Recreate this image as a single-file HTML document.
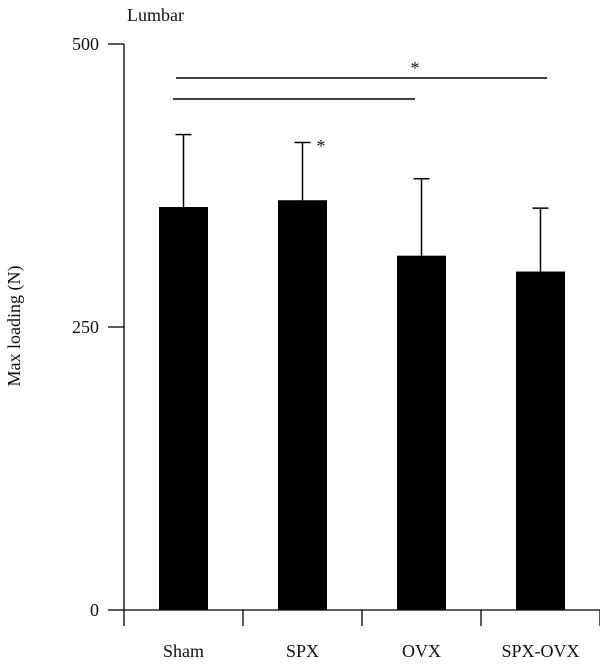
<!DOCTYPE html>
<html><head><meta charset="utf-8">
<style>
html,body{margin:0;padding:0;background:#fff;}
svg{display:block;font-family:"Liberation Serif",serif;}
</style></head>
<body>
<svg id="chart" width="600" height="667" viewBox="0 0 600 667"></svg>
<script>
const categories = ["Sham", "SPX", "OVX", "SPX-OVX"];
const means = [356, 362, 313, 299];
const errUpper = [420, 413, 381, 355];
const yTicks = [0, 250, 500];

const NS = "http://www.w3.org/2000/svg";
const svg = document.getElementById("chart");
const x0 = 124, y0 = 610, yTop = 44, yMax = 500;
const catW = 119, barW = 49;
function yScale(v){ return y0 - (v / yMax) * (y0 - yTop); }
function xCenter(i){ return x0 + catW * i + catW / 2; }
function mk(tag, attrs, text){
  const e = document.createElementNS(NS, tag);
  for (const k in attrs) e.setAttribute(k, attrs[k]);
  if (text !== undefined) e.textContent = text;
  svg.appendChild(e);
  return e;
}

// title
let t = mk("text", {x: 127, y: 21, "font-size": 18, fill: "#111"}, "Lumbar");



// y axis
let ya = mk("line", {x1: x0, y1: yTop, x2: x0, y2: y0, stroke: "#000", "stroke-width": 1.3});


yTicks.forEach(v => {
  const y = yScale(v);
  let tk = mk("line", {x1: 108, y1: y, x2: x0, y2: y, stroke: "#000", "stroke-width": 1.3});
  
  
  let lb = mk("text", {x: 99, y: y + 6, "font-size": 18, "text-anchor": "end", fill: "#111"}, String(v));
  
  
});
let yt = mk("text", {x: 20, y: 326, "font-size": 18, "text-anchor": "middle", fill: "#111", transform: "rotate(-90 20 326)"}, "Max loading (N)");



// x axis
let xa = mk("line", {x1: x0, y1: y0, x2: x0 + catW * categories.length, y2: y0, stroke: "#000", "stroke-width": 1.3});


for (let i = 0; i <= categories.length; i++) {
  const x = x0 + catW * i;
  let tk = mk("line", {x1: x, y1: y0, x2: x, y2: 626, stroke: "#000", "stroke-width": 1.3});
  
  
}

categories.forEach((c, i) => {
  const cx = xCenter(i);
  const yt2 = yScale(means[i]);
  let b = mk("rect", {x: cx - barW / 2, y: yt2, width: barW, height: y0 - yt2, fill: "#000"});
  
  
  const ye = yScale(errUpper[i]);
  let el = mk("line", {x1: cx, y1: ye, x2: cx, y2: yt2, stroke: "#000", "stroke-width": 1.5});
  
  
  let ec = mk("line", {x1: cx - 8, y1: ye, x2: cx + 8, y2: ye, stroke: "#000", "stroke-width": 1.5});
  
  
  let lb = mk("text", {x: cx, y: 657, "font-size": 18, "text-anchor": "middle", fill: "#111"}, c);
  
  
});

// significance
let s1 = mk("line", {x1: 176, y1: 78, x2: 547, y2: 78, stroke: "#000", "stroke-width": 1.4});


let s2 = mk("line", {x1: 173, y1: 99, x2: 415, y2: 99, stroke: "#000", "stroke-width": 1.4});


let st1 = mk("text", {x: 415, y: 74, "font-size": 18, "text-anchor": "middle", fill: "#111"}, "*");


let st2 = mk("text", {x: 321, y: 152, "font-size": 18, "text-anchor": "middle", fill: "#111"}, "*");


</script>
</body></html>
